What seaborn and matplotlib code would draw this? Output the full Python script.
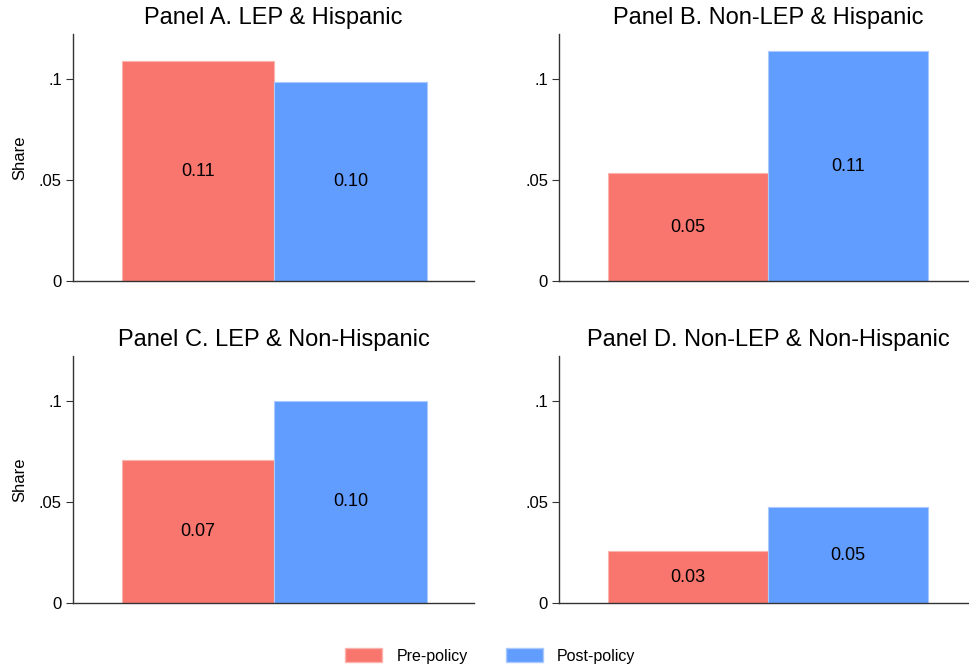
import pandas as pd
import seaborn as sns
import matplotlib.pyplot as plt
from matplotlib.patches import Patch

sns.set_style('white')
plt.rcParams['font.family'] = ['Liberation Sans', 'DejaVu Sans']
plt.rcParams['text.color'] = 'black'

# 데이터
panels = ['Panel A. LEP & Hispanic', 'Panel B. Non-LEP & Hispanic',
          'Panel C. LEP & Non-Hispanic', 'Panel D. Non-LEP & Non-Hispanic']
pre_policy = [0.109, 0.0535, 0.0708, 0.0257]
post_policy = [0.0985, 0.1139, 0.1, 0.0475]
groups = ['Pre-policy', 'Post-policy']
colors = ['#F8766D', '#619CFF']
edge_colors = ['#FBB3AE', '#A9C9FF']
yticks = [0, 0.05, 0.1]
ytick_labels = ['0', '.05', '.1']

fig = plt.figure(figsize=(9.69, 6.68), dpi=100)
# axes positions (left, bottom, width, height)
pos = [(0.0753, 0.579, 0.414, 0.370), (0.577, 0.579, 0.432, 0.370),
       (0.0753, 0.0973, 0.414, 0.370), (0.577, 0.0973, 0.432, 0.370)]
xlims = [(-0.82, 1.81), (-0.806, 1.8125), (-0.82, 1.81), (-0.806, 1.8125)]

for i, title in enumerate(panels):
    ax = fig.add_axes(pos[i])
    df = pd.DataFrame({'group': groups, 'share': [pre_policy[i], post_policy[i]]})
    sns.barplot(data=df, x='group', y='share', hue='group', order=groups, hue_order=groups,
                palette=colors, saturation=1, width=1, dodge=False, legend=False, ax=ax)
    for j, bar in enumerate(ax.patches):
        bar.set_edgecolor(edge_colors[j])
        bar.set_linewidth(0.8)
        h = bar.get_height()
        ax.text(bar.get_x() + bar.get_width() / 2, h / 2, f'{h:.2f}',
                ha='center', va='center', fontsize=13, color='black')
    ax.set_xlim(*xlims[i])
    ax.set_ylim(0, 0.1223)
    ax.set_yticks(yticks)
    ax.set_yticklabels(ytick_labels)
    ax.set_xticks([])
    ax.set_xlabel('')
    ax.set_ylabel('Share' if i % 2 == 0 else '', fontsize=12, labelpad=8, color='black')
    ax.set_title(title, fontsize=17, pad=7, color='black')
    ax.tick_params(axis='y', left=True, length=5, width=0.8, color='#333333',
                   labelsize=12, labelcolor='black', pad=3)
    ax.spines['top'].set_visible(False)
    ax.spines['right'].set_visible(False)
    for s in ['left', 'bottom']:
        ax.spines[s].set_color('#333333')
        ax.spines[s].set_linewidth(1.0)

handles = [Patch(facecolor=colors[k], edgecolor=edge_colors[k], label=groups[k]) for k in range(2)]
fig.legend(handles=handles, loc='center', bbox_to_anchor=(0.506, 0.018), ncol=2, frameon=False,
           fontsize=11.5, handlelength=2.3, handleheight=1.0, columnspacing=2.4, handletextpad=0.9)

plt.savefig('out.png', dpi=100)
plt.close()
